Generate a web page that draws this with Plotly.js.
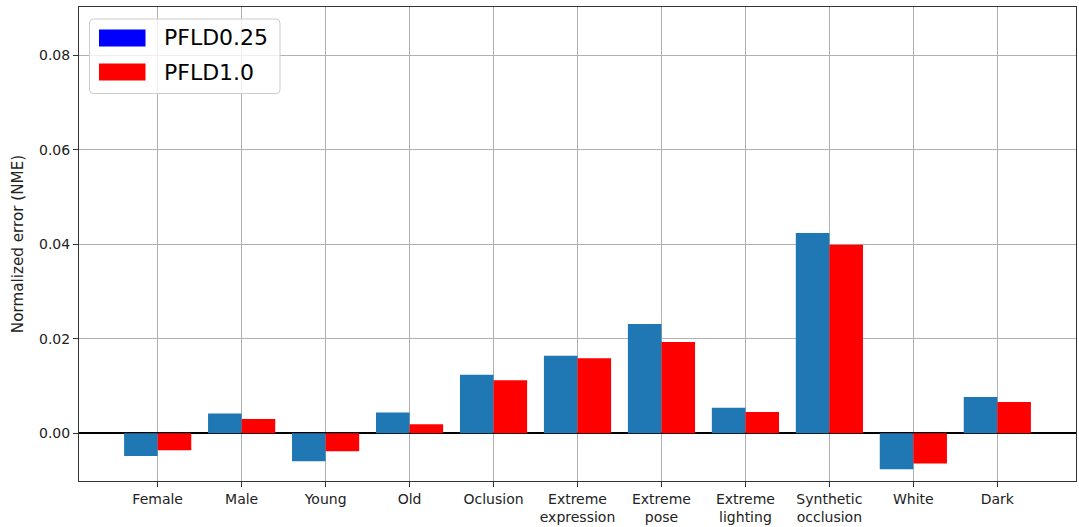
<!DOCTYPE html>
<html>
<head>
<meta charset="utf-8">
<script src="https://cdn.plot.ly/plotly-3.0.1.min.js"></script>
<style>
  html, body { margin: 0; padding: 0; background: #fff; }
  #chart { width: 1079px; height: 527px; }
</style>
</head>
<body>
<div id="chart"></div>
<script>
// Subsets of the test set
const categories = [
  "Female", "Male", "Young", "Old", "Oclusion",
  "Extreme<br>expression", "Extreme<br>pose", "Extreme<br>lighting",
  "Synthetic<br>occlusion", "White", "Dark"
];

// Normalized error difference per subset
const pfld025 = [-0.0048, 0.0042, -0.0059, 0.0044, 0.0124, 0.0164, 0.0231, 0.0054, 0.0424, -0.0076, 0.0077];
const pfld10  = [-0.0036, 0.0030, -0.0038, 0.0019, 0.0112, 0.0159, 0.0193, 0.0045, 0.0399, -0.0064, 0.0066];

const seriesNames = ["PFLD0.25", "PFLD1.0"];
const legendColors = ["#0000ff", "#ff0000"];

const FONT = "DejaVu Sans, Liberation Sans, sans-serif";

// Plot box in pixels
const W = 1079, H = 527;
const M = { l: 79, r: 3, t: 7, b: 46 };
const PW = W - M.l - M.r, PH = H - M.t - M.b;
const px = x => (x - M.l) / PW;
const py = y => 1 - (y - M.t) / PH;

const traces = [
  {
    type: "bar", x: categories, y: pfld025, name: seriesNames[0],
    marker: { color: "#1f77b4", line: { width: 0 } }, showlegend: false,
    hoverinfo: "x+y"
  },
  {
    type: "bar", x: categories, y: pfld10, name: seriesNames[1],
    marker: { color: "#ff0000", line: { width: 0 } }, showlegend: false,
    hoverinfo: "x+y"
  }
];

// Legend frame with rounded corners, drawn in paper units
function roundRect(x0, y0, x1, y1, r) {
  const rx = r / PW, ry = r / PH;
  const X0 = px(x0), X1 = px(x1), Y0 = py(y0), Y1 = py(y1);
  return `M${X0 + rx},${Y0} L${X1 - rx},${Y0} Q${X1},${Y0} ${X1},${Y0 - ry} ` +
         `L${X1},${Y1 + ry} Q${X1},${Y1} ${X1 - rx},${Y1} ` +
         `L${X0 + rx},${Y1} Q${X0},${Y1} ${X0},${Y1 + ry} ` +
         `L${X0},${Y0 - ry} Q${X0},${Y0} ${X0 + rx},${Y0} Z`;
}

const shapes = [
  {
    type: "path", xref: "paper", yref: "paper", layer: "above",
    path: roundRect(89.5, 19, 280, 93.5, 4),
    fillcolor: "rgba(255,255,255,0.8)", line: { color: "#cccccc", width: 1 }
  }
];
const annotations = [];
const rowTops = [29.5, 63.5];
seriesNames.forEach((name, i) => {
  const top = rowTops[i];
  shapes.push({
    type: "rect", xref: "paper", yref: "paper", layer: "above",
    x0: px(99), x1: px(145.5), y0: py(top), y1: py(top + 17),
    fillcolor: legendColors[i], line: { width: 0 }
  });
  annotations.push({
    xref: "paper", yref: "paper", x: px(162), y: py(top + 8.5),
    xanchor: "left", yanchor: "middle", showarrow: false,
    text: name, font: { family: FONT, size: 22, color: "#000" }
  });
});

const layout = {
  width: W, height: H,
  margin: M,
  paper_bgcolor: "#fff", plot_bgcolor: "#fff",
  font: { family: FONT, size: 14, color: "#222" },
  barmode: "group", bargap: 0.2, bargroupgap: 0,
  showlegend: false,
  xaxis: {
    type: "category",
    range: [-0.937, 10.937],
    showgrid: true, gridcolor: "#b0b0b0", gridwidth: 1,
    showline: true, mirror: true, linecolor: "#333", linewidth: 1,
    ticks: "outside", ticklen: 5, tickcolor: "#333",
    tickfont: { family: FONT, size: 14, color: "#222" },
    zeroline: false
  },
  yaxis: {
    range: [-0.0101, 0.0902],
    dtick: 0.02, tick0: 0, tickformat: ".2f",
    showgrid: true, gridcolor: "#b0b0b0", gridwidth: 1,
    showline: true, mirror: true, linecolor: "#333", linewidth: 1,
    ticks: "outside", ticklen: 5, tickcolor: "#333",
    tickfont: { family: FONT, size: 14, color: "#222" },
    zeroline: true, zerolinecolor: "#000", zerolinewidth: 2,
    title: { text: "Normalized error (NME)", font: { family: FONT, size: 15.2, color: "#222" }, standoff: 11 }
  },
  shapes: shapes,
  annotations: annotations
};

Plotly.newPlot("chart", traces, layout, { displayModeBar: false, staticPlot: true });
</script>
</body>
</html>
